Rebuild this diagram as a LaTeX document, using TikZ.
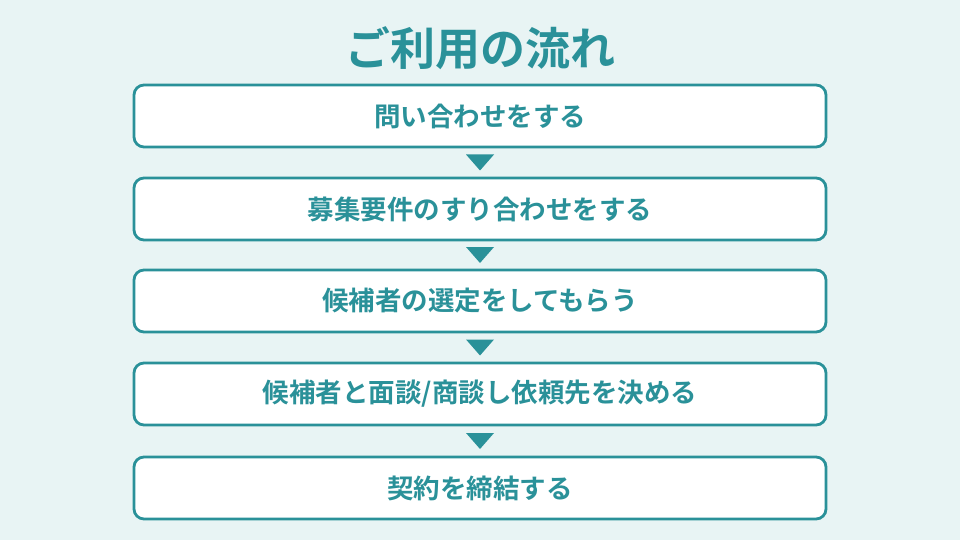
\documentclass[tikz,border=0pt]{standalone}
\usepackage{fontspec}
\setmainfont{Noto Sans CJK JP}[BoldFont={* Bold}]
\definecolor{teal1}{HTML}{2A9199}
\definecolor{bg}{HTML}{E8F4F4}
\begin{document}
\begin{tikzpicture}[x=1pt,y=-1pt,
  stepbox/.style={draw=teal1,line width=2.8pt,fill=white,rounded corners=10pt,minimum width=692pt,minimum height=62pt,inner sep=0pt,text=teal1,font=\fontsize{26.5}{29}\selectfont\bfseries},
  tri/.style={fill=teal1,draw=none}]
\fill[bg] (0,0) rectangle (960,540);
\useasboundingbox (0,0) rectangle (960,540);
\node[text=teal1,font=\fontsize{45}{49}\selectfont\bfseries] (title) at (480,48) {ご利用の流れ};
\node[stepbox] (s1) at (480,116) {問い合わせをする};
\node[stepbox] (s2) at (480,209) {募集要件のすり合わせをする};
\node[stepbox] (s3) at (480,301) {候補者の選定をしてもらう};
\node[stepbox] (s4) at (480,394) {候補者と面談/商談し依頼先を決める};
\node[stepbox] (s5) at (480,488) {契約を締結する};
\foreach \a/\b in {s1/s2,s2/s3,s3/s4,s4/s5}{
  \path (\a.south) -- (\b.north) coordinate[midway] (m);
  \fill[tri] ([xshift=-14pt,yshift=8pt]m) -- ([xshift=14pt,yshift=8pt]m) -- ([yshift=-8pt]m) -- cycle;
}
\end{tikzpicture}
\end{document}
